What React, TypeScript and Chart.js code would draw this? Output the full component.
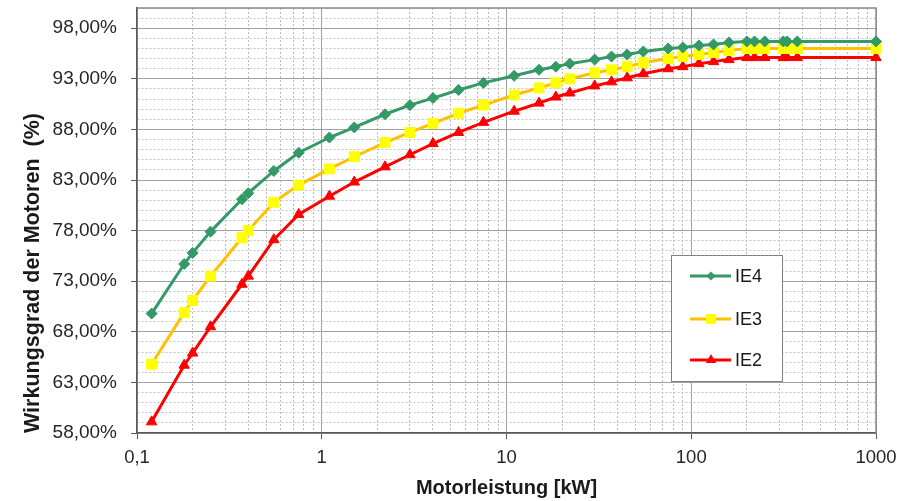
import React, { useEffect, useRef } from 'react';
import { Chart, registerables } from 'chart.js';

Chart.register(...registerables);

// ---- data ----
const powerKW = [0.12, 0.18, 0.2, 0.25, 0.37, 0.4, 0.55, 0.75, 1.1, 1.5, 2.2, 3, 4, 5.5, 7.5, 11, 15, 18.5, 22, 30, 37, 45, 55, 75, 90, 110, 132, 160, 200, 220, 250, 315, 330, 375, 1000];
const ie4 = [69.8, 74.7, 75.8, 77.9, 81.1, 81.7, 83.9, 85.7, 87.2, 88.2, 89.5, 90.4, 91.1, 91.9, 92.6, 93.3, 93.9, 94.2, 94.5, 94.9, 95.2, 95.4, 95.7, 96.0, 96.1, 96.3, 96.4, 96.6, 96.7, 96.7, 96.7, 96.7, 96.7, 96.7, 96.7];
const ie3 = [64.8, 69.9, 71.1, 73.5, 77.3, 78.0, 80.8, 82.5, 84.1, 85.3, 86.7, 87.7, 88.6, 89.6, 90.4, 91.4, 92.1, 92.6, 93.0, 93.6, 93.9, 94.2, 94.6, 95.0, 95.2, 95.4, 95.6, 95.8, 96.0, 96.0, 96.0, 96.0, 96.0, 96.0, 96.0];
const ie2 = [59.1, 64.7, 65.9, 68.5, 72.7, 73.5, 77.1, 79.6, 81.4, 82.8, 84.3, 85.5, 86.6, 87.7, 88.7, 89.8, 90.6, 91.2, 91.6, 92.3, 92.7, 93.1, 93.5, 94.0, 94.2, 94.5, 94.7, 94.9, 95.1, 95.1, 95.1, 95.1, 95.1, 95.1, 95.1];

const seriesNames = ['IE4', 'IE3', 'IE2'];
const xDecades = [0.1, 1, 10, 100, 1000];
const xDecadeLabels = ['0,1', '1', '10', '100', '1000'];
const yMin = 58;
const yMax = 100;
const yMajorStep = 5;
const xTitle = 'Motorleistung [kW]';
const yTitle = 'Wirkungsgrad der Motoren  (%)';

const FONT = "'Liberation Sans', Arial, sans-serif";

const xTickValues: number[] = [];
xDecades.forEach((d, i) => {
  if (i === xDecades.length - 1) {
    xTickValues.push(d);
  } else {
    for (let k = 1; k <= 9; k++) xTickValues.push(+(d * k).toPrecision(6));
  }
});

function decadeIndex(v: number): number {
  return xDecades.findIndex((d) => Math.abs(v - d) / d < 1e-6);
}
function isYMajor(v: number): boolean {
  return Math.abs((Math.round(v) - yMin) % yMajorStep) === 0;
}

function drawMarker(ctx: CanvasRenderingContext2D, style: string, x: number, y: number, r: number, color: string) {
  ctx.save();
  ctx.fillStyle = color;
  ctx.beginPath();
  if (style === 'rectRot') {
    ctx.moveTo(x, y - r);
    ctx.lineTo(x + r, y);
    ctx.lineTo(x, y + r);
    ctx.lineTo(x - r, y);
    ctx.closePath();
  } else if (style === 'rect') {
    const s = r * Math.SQRT1_2;
    ctx.rect(x - s, y - s, 2 * s, 2 * s);
  } else {
    ctx.moveTo(x, y - r);
    ctx.lineTo(x + r * 0.866, y + r * 0.5);
    ctx.lineTo(x - r * 0.866, y + r * 0.5);
    ctx.closePath();
  }
  ctx.fill();
  ctx.restore();
}

const framePlugin = {
  id: 'frame',
  beforeDatasetsDraw(chart: any) {
    const { ctx, chartArea: a } = chart;
    ctx.save();
    ctx.strokeStyle = '#8c8c8c';
    ctx.lineWidth = 1.5;
    ctx.beginPath();
    ctx.moveTo(a.left, a.top);
    ctx.lineTo(a.right, a.top);
    ctx.lineTo(a.right, a.bottom);
    ctx.stroke();
    ctx.restore();
  },
};

const legendPlugin = {
  id: 'insideLegend',
  afterDatasetsDraw(chart: any) {
    const { ctx, chartArea: a } = chart;
    const left = a.right - 205;
    const top = a.top + 247;
    const w = 111;
    const h = 126;
    ctx.save();
    ctx.fillStyle = '#ffffff';
    ctx.fillRect(left, top, w, h);
    ctx.strokeStyle = '#808080';
    ctx.lineWidth = 1;
    ctx.strokeRect(left + 0.5, top + 0.5, w, h);
    const rows = [21, 64, 105];
    chart.data.datasets.forEach((ds: any, i: number) => {
      const y = top + rows[i];
      ctx.strokeStyle = ds.borderColor;
      ctx.lineWidth = 3;
      ctx.beginPath();
      ctx.moveTo(left + 19, y);
      ctx.lineTo(left + 60, y);
      ctx.stroke();
      const r = ds.pointStyle === 'rectRot' ? 4.5 : ds.pointStyle === 'rect' ? 7 : 6;
      drawMarker(ctx, ds.pointStyle, left + 40, y, r, ds.pointBackgroundColor);
      ctx.fillStyle = '#1a1a1a';
      ctx.font = `18px ${FONT}`;
      ctx.textAlign = 'left';
      ctx.textBaseline = 'middle';
      ctx.fillText(ds.label, left + 64, y + 1);
    });
    ctx.restore();
  },
};

export default function App() {
  const ref = useRef<HTMLCanvasElement | null>(null);

  useEffect(() => {
    if (!ref.current) return;
    const toPts = (ys: number[]) => powerKW.map((x, i) => ({ x, y: ys[i] }));
    const chart = new Chart(ref.current, {
      type: 'line',
      data: {
        datasets: [
          {
            label: seriesNames[0],
            data: toPts(ie4),
            borderColor: '#339966',
            backgroundColor: '#339966',
            pointBackgroundColor: '#339966',
            pointBorderColor: '#339966',
            pointStyle: 'rectRot',
            pointRadius: 5.5,
            pointBorderWidth: 1,
            borderWidth: 3,
            tension: 0,
            clip: false,
          },
          {
            label: seriesNames[1],
            data: toPts(ie3),
            borderColor: '#ffc000',
            backgroundColor: '#ffff00',
            pointBackgroundColor: '#ffff00',
            pointBorderColor: '#ffff00',
            pointStyle: 'rect',
            pointRadius: 7,
            pointBorderWidth: 1,
            borderWidth: 3,
            tension: 0,
            clip: false,
          },
          {
            label: seriesNames[2],
            data: toPts(ie2),
            borderColor: '#ff0000',
            backgroundColor: '#ff0000',
            pointBackgroundColor: '#ff0000',
            pointBorderColor: '#ff0000',
            pointStyle: 'triangle',
            pointRadius: 6,
            pointBorderWidth: 1,
            borderWidth: 3,
            tension: 0,
            clip: false,
          },
        ],
      },
      options: {
        animation: false,
        responsive: false,
        events: [],
        layout: { padding: { top: 7, right: 30, left: 0, bottom: 0 } },
        plugins: {
          legend: { display: false },
          tooltip: { enabled: false },
        },
        scales: {
          x: {
            type: 'logarithmic',
            min: xDecades[0],
            max: xDecades[xDecades.length - 1],
            afterBuildTicks: (scale: any) => {
              scale.ticks = xTickValues.map((v) => ({ value: v, major: false }));
            },
            afterFit: (scale: any) => {
              scale.height = 68;
              scale.paddingLeft = 0;
              scale.paddingRight = 0;
            },
            ticks: {
              autoSkip: false,
              maxRotation: 0,
              minRotation: 0,
              padding: 8,
              color: '#262626',
              font: { family: FONT, size: 18.5 },
              callback: (v: any) => {
                const i = decadeIndex(Number(v));
                return i >= 0 ? xDecadeLabels[i] : '';
              },
            },
            grid: {
              color: (c: any) => (c.tick && decadeIndex(c.tick.value) >= 0 ? '#a0a0a0' : '#bdbdbd'),
              lineWidth: 1,
              tickLength: 6,
              tickColor: (c: any) => (c.tick && decadeIndex(c.tick.value) >= 0 ? '#595959' : 'rgba(0,0,0,0)'),
            },
            border: {
              color: '#595959',
              width: 1.5,
              dash: (c: any) => (c.tick && decadeIndex(c.tick.value) < 0 ? [2, 2] : []),
            },
            title: {
              display: true,
              text: xTitle,
              color: '#1a1a1a',
              font: { family: FONT, size: 20, weight: 'bold' },
              padding: { top: 0, bottom: 1 },
            },
          },
          y: {
            type: 'linear',
            min: yMin,
            max: yMax,
            afterFit: (scale: any) => {
              scale.width = 137;
              scale.paddingTop = 0;
              scale.paddingBottom = 0;
            },
            ticks: {
              stepSize: 1,
              autoSkip: false,
              padding: 14,
              color: '#262626',
              font: { family: FONT, size: 19 },
              callback: (v: any) => (isYMajor(Number(v)) ? Number(v).toFixed(2).replace('.', ',') + '%' : ''),
            },
            grid: {
              color: (c: any) => (c.tick && isYMajor(c.tick.value) ? '#a0a0a0' : '#c4c4c4'),
              lineWidth: 1,
              tickLength: 6,
              tickColor: (c: any) => (c.tick && isYMajor(c.tick.value) ? '#595959' : 'rgba(0,0,0,0)'),
            },
            border: {
              color: '#595959',
              width: 1.5,
              dash: (c: any) => (c.tick && !isYMajor(c.tick.value) ? [2, 2] : []),
            },
            title: {
              display: true,
              text: yTitle,
              align: 'start',
              color: '#1a1a1a',
              font: { family: FONT, size: 21.5, weight: 'bold' },
              padding: { top: 20, bottom: 0 },
            },
          },
        },
      },
      plugins: [framePlugin, legendPlugin],
    } as any);
    return () => chart.destroy();
  }, []);

  return (
    <div style={{ position: 'absolute', left: 0, top: 0, width: 906, height: 501, background: '#ffffff' }}>
      <canvas ref={ref} width={906} height={501} />
    </div>
  );
}
